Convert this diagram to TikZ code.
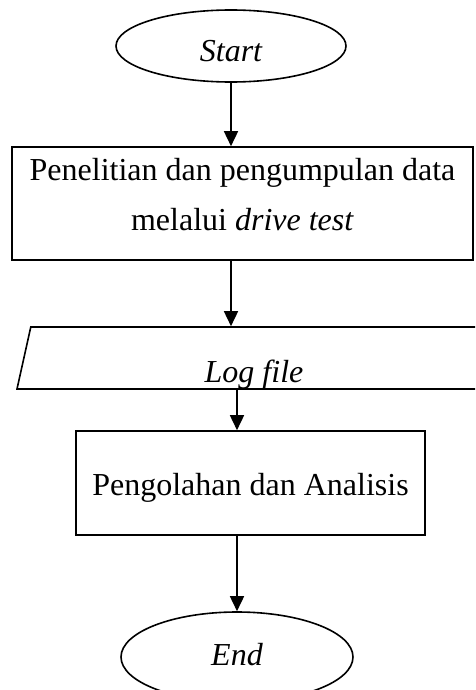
\documentclass[tikz,border=0pt]{standalone}
\usepackage{fontspec}
\setmainfont{Liberation Serif}
\usetikzlibrary{shapes.geometric,arrows.meta}
\tikzset{
  every node/.style={font=\fontsize{32}{50}\selectfont},
  terminal/.style={draw,ellipse,line width=1.6pt,inner sep=0pt,font=\fontsize{32}{50}\selectfont\itshape},
  procbox/.style={draw,rectangle,line width=1.6pt,align=center,inner sep=0pt},
  iobox/.style={draw,trapezium,trapezium left angle=74,trapezium right angle=106,
    trapezium stretches body=true,line width=1.6pt,inner sep=0pt,font=\fontsize{32}{50}\selectfont\itshape},
  flow/.style={line width=1.6pt,-{Triangle[length=15pt,width=14pt]}}
}
\begin{document}
\begin{tikzpicture}[x=1pt,y=-1pt]
\useasboundingbox (0,0) rectangle (475,690);
\clip (0,0) rectangle (475,690);
\node[terminal,minimum width=230,minimum height=72,text height=32pt,text depth=0pt] (start) at (231,46) {Start};
\node[procbox,minimum width=461,minimum height=113,text height=73pt,text depth=20pt] (riset) at (242.5,203.5)
  {Penelitian dan pengumpulan data\\melalui \textit{drive test}};
\node[iobox,minimum width=474,minimum height=62,text height=48pt,text depth=0pt] (logfile) at (254,358) {Log file};
\node[procbox,minimum width=349,minimum height=104,text height=24pt,text depth=0pt] (olah) at (250.5,483) {Pengolahan dan Analisis};
\node[terminal,minimum width=232,minimum height=90,text height=22pt,text depth=6pt] (end) at (237,657) {End};

\draw[flow] (start.south) -- (start.south |- riset.north);
\draw[flow] (riset.south -| start) -- (logfile.north -| start);
\draw[flow] (logfile.south -| end) -- (olah.north -| end);
\draw[flow] (olah.south -| end) -- (end.north);
\end{tikzpicture}
\end{document}
